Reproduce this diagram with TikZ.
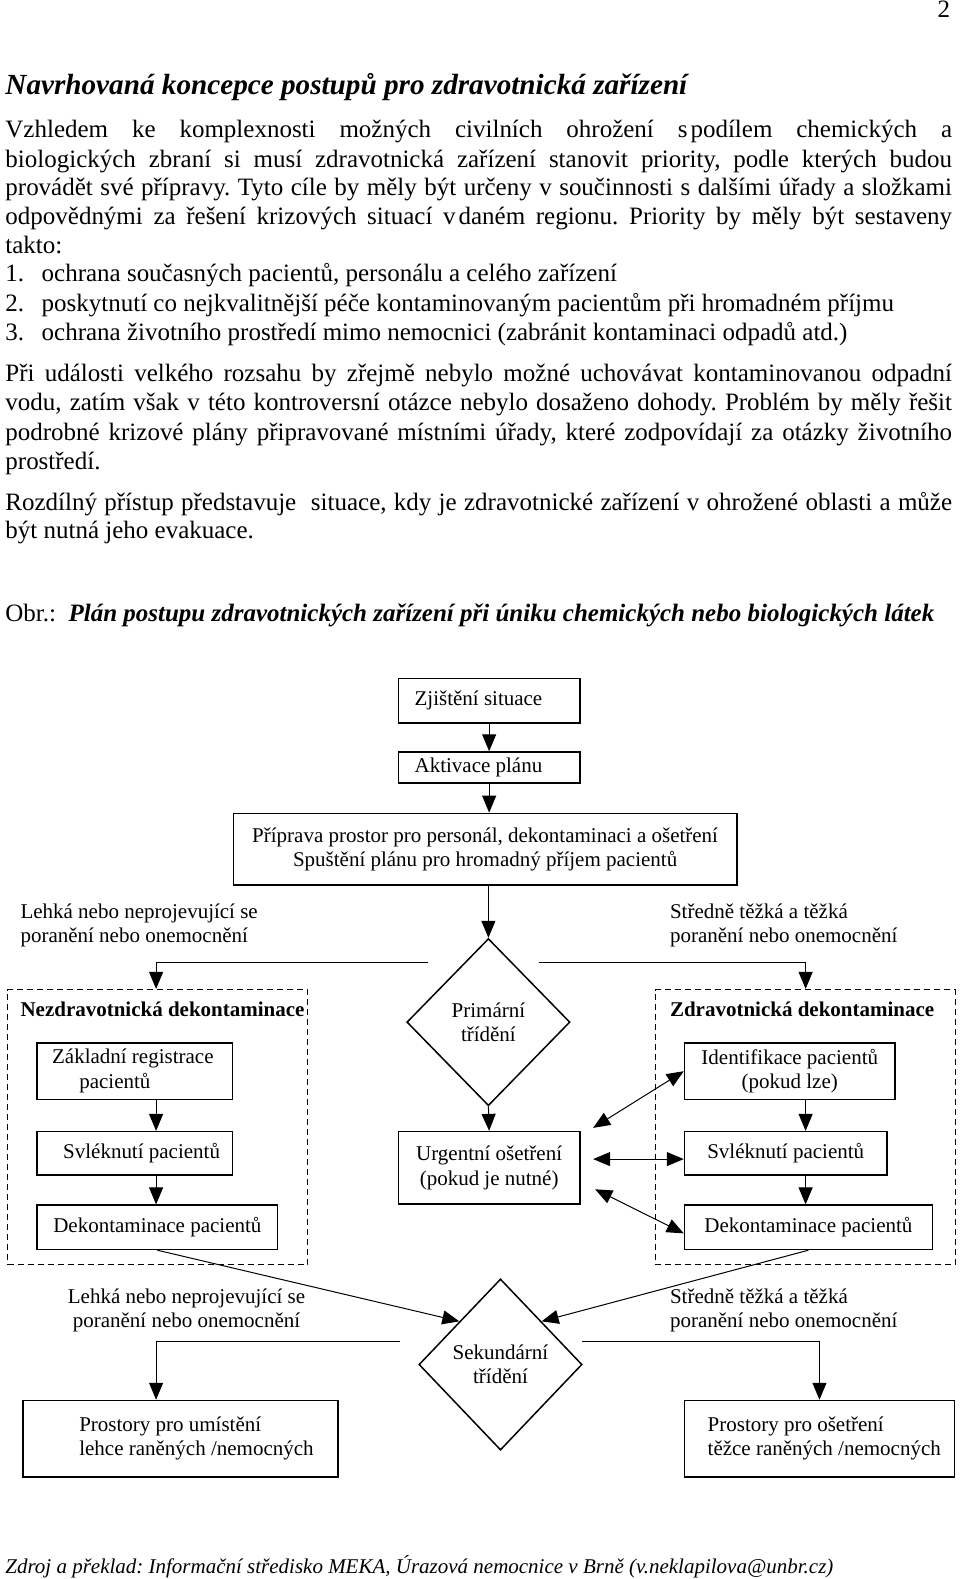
\documentclass[tikz,border=0pt]{standalone}
\usepackage{fontspec}
\setmainfont{Liberation Serif}
\usetikzlibrary{shapes.geometric,arrows.meta,calc}
\newlength\pxu
\setlength\pxu{0.5037pt}
\newcommand\bodyfont{\fontsize{12.5}{14.4}\selectfont}
\newcommand\chartfont{\fontsize{10.5}{12.1}\selectfont}
\newcommand\jline[1]{\makebox[940\pxu][s]{#1}}
\newcommand\leftin[3]{\makebox[#1][l]{\hspace*{#2}\begin{tabular}{@{}l@{}}#3\end{tabular}}}
\frenchspacing

\begin{document}
\begin{tikzpicture}[x=\pxu, y=-\pxu,
    every node/.style={inner sep=0pt, font=\chartfont},
    txt/.style={anchor=base west, font=\bodyfont},
    box/.style={draw, line width=0.75pt, anchor=north west, align=center},
    dbox/.style={draw, dash pattern=on 3pt off 2pt, line width=0.6pt, anchor=north west},
    dia/.style={draw, diamond, line width=0.75pt, align=center},
    lab/.style={anchor=west, align=left},
    arr/.style={-{Triangle[length=8.5pt,width=7pt]}, line width=0.5pt},
    darr/.style={{Triangle[length=8.5pt,width=7pt]}-{Triangle[length=8.5pt,width=7pt]}, line width=0.5pt}]
  \useasboundingbox (0,0) rectangle (953,1568);

  % page text
  \node[txt, anchor=base east] (num) at (944,17) {2};
  \node[txt, font=\fontsize{14.6}{17}\selectfont\bfseries\itshape] (title) at (5,94)
    {Navrhovaná koncepce postupů pro zdravotnická zařízení};
  \node[txt] (p1a) at (5,137) {\jline{Vzhledem ke komplexnosti možných civilních ohrožení s\kern1.5pt podílem chemických a}};
  \node[txt] (p1b) at (5,166) {\jline{biologických zbraní si musí zdravotnická zařízení stanovit priority, podle kterých budou}};
  \node[txt] (p1c) at (5,194) {\jline{provádět své přípravy. Tyto cíle by měly být určeny v součinnosti s dalšími úřady a složkami}};
  \node[txt] (p1d) at (5,223) {\jline{odpovědnými za řešení krizových situací v\kern1.5pt daném regionu. Priority by měly být sestaveny}};
  \node[txt] (p1e) at (5,252) {takto:};
  \node[txt] (n1) at (5,280) {1.};
  \node[txt] (i1) at (41,280) {ochrana současných pacientů, personálu a celého zařízení};
  \node[txt] (n2) at (5,309) {2.};
  \node[txt] (i2) at (41,309) {poskytnutí co nejkvalitnější péče kontaminovaným pacientům při hromadném příjmu};
  \node[txt] (n3) at (5,338) {3.};
  \node[txt] (i3) at (41,338) {ochrana životního prostředí mimo nemocnici (zabránit kontaminaci odpadů atd.)};
  \node[txt] (p2a) at (5,379) {\jline{Při události velkého rozsahu by zřejmě nebylo možné uchovávat kontaminovanou odpadní}};
  \node[txt] (p2b) at (5,408) {\jline{vodu, zatím však v této kontroversní otázce nebylo dosaženo dohody. Problém by měly řešit}};
  \node[txt] (p2c) at (5,437) {\jline{podrobné krizové plány připravované místními úřady, které zodpovídají za otázky životního}};
  \node[txt] (p2d) at (5,466) {prostředí.};
  \node[txt] (p3a) at (5,507) {\jline{Rozdílný přístup představuje\ \ situace, kdy je zdravotnické zařízení v ohrožené oblasti a může}};
  \node[txt] (p3b) at (5,535) {být nutná jeho evakuace.};
  \node[txt] (obr) at (5,617) {Obr.:\ \ \textbf{\textit{Plán postupu zdravotnických zařízení při úniku chemických nebo biologických látek}}};
  \node[txt, font=\fontsize{10.5}{12}\selectfont\itshape] (zdroj) at (5,1563)
    {Zdroj a překlad: Informační středisko MEKA, Úrazová nemocnice v Brně (v.neklapilova@unbr.cz)};

  % chart
  \node[dbox, minimum width=298\pxu, minimum height=273\pxu] (ndek) at (7,982) {};
  \node[dbox, minimum width=298\pxu, minimum height=273\pxu] (zdek) at (650,982) {};
  \node[lab, font=\chartfont\bfseries] (ntit) at (20,1002) {Nezdravotnická dekontaminace};
  \node[lab, font=\chartfont\bfseries] (ztit) at (665,1002) {Zdravotnická dekontaminace};

  \node[box, minimum width=180\pxu, minimum height=44\pxu] (zji) at (395,673) {\leftin{180\pxu}{16\pxu}{Zjištění situace}};
  \node[box, minimum width=180\pxu, minimum height=31\pxu] (akt) at (395,746) {\leftin{180\pxu}{16\pxu}{Aktivace plánu}};
  \node[box, minimum width=500\pxu, minimum height=71\pxu] (pri) at (231,807)
    {Příprava prostor pro personál, dekontaminaci a ošetření\\Spuštění plánu pro hromadný příjem pacientů};
  \node[dia, minimum width=162\pxu, minimum height=166\pxu] (prim) at (485,1015) {Primární\\třídění};

  \node[box, minimum width=194\pxu, minimum height=56\pxu] (zakl) at (36,1035)
    {\leftin{194\pxu}{15\pxu}{Základní registrace\\\hspace*{27\pxu}pacientů}};
  \node[box, minimum width=194\pxu, minimum height=43\pxu] (svl1) at (36,1123) {\leftin{194\pxu}{26\pxu}{Svléknutí pacientů}};
  \node[box, minimum width=239\pxu, minimum height=44\pxu] (dek1) at (36,1196) {Dekontaminace pacientů};
  \node[box, minimum width=180\pxu, minimum height=72\pxu] (urg) at (395,1123) {Urgentní ošetření\\(pokud je nutné)};
  \node[box, minimum width=209\pxu, minimum height=56\pxu] (ident) at (679,1035) {Identifikace pacientů\\(pokud lze)};
  \node[box, minimum width=201\pxu, minimum height=43\pxu] (svl2) at (679,1123) {Svléknutí pacientů};
  \node[box, minimum width=246\pxu, minimum height=44\pxu] (dek2) at (679,1196) {Dekontaminace pacientů};

  \node[dia, minimum width=162\pxu, minimum height=170\pxu] (sek) at (497,1355) {Sekundární\\třídění};
  \node[box, minimum width=313\pxu, minimum height=76\pxu] (pros1) at (22,1390)
    {\leftin{313\pxu}{56\pxu}{Prostory pro umístění\\lehce raněných /nemocných}};
  \node[box, minimum width=268\pxu, minimum height=76\pxu] (pros2) at (679,1390)
    {\leftin{268\pxu}{23\pxu}{Prostory pro ošetření\\těžce raněných /nemocných}};

  \node[lab] (lehka1) at (20,919) {Lehká nebo neprojevující se\\poranění nebo onemocnění};
  \node[lab] (tezka1) at (665,919) {Středně těžká a těžká\\poranění nebo onemocnění};
  \node[anchor=west, align=center] (lehka2) at (67,1301) {Lehká nebo neprojevující se\\poranění nebo onemocnění};
  \node[lab] (tezka2) at (665,1301) {Středně těžká a těžká\\poranění nebo onemocnění};

  % connectors
  \coordinate (lc) at (155,0);
  \coordinate (rc) at (800,0);
  \coordinate (pl) at (425,956);
  \coordinate (pr) at (535,956);
  \coordinate (sl) at (397,1332);
  \coordinate (sr) at (578,1332);
  \coordinate (u1) at (589,1120);
  \coordinate (u2) at (589,1151);
  \coordinate (u3) at (591,1181);

  \draw[arr] (zji) -- (akt);
  \draw[arr] (akt.south) -- (akt.south |- pri.north);
  \draw[arr] (prim.north |- pri.south) -- (prim.north);
  \draw[arr] (pl) -| (lc |- ndek.north);
  \draw[arr] (pr) -| (rc |- zdek.north);
  \draw[arr] (lc |- zakl.south) -- (lc |- svl1.north);
  \draw[arr] (lc |- svl1.south) -- (lc |- dek1.north);
  \draw[arr] (prim.south) -- (urg.north);
  \draw[arr] (rc |- ident.south) -- (rc |- svl2.north);
  \draw[arr] (rc |- svl2.south) -- (rc |- dek2.north);
  \draw[darr] (u1) -- (ident.west);
  \draw[darr] (u2) -- (svl2.west |- u2);
  \draw[darr] (u3) -- ($(dek2.west)+(0,6)$);
  \draw[arr] (dek1.south) -- (sek.north west);
  \draw[arr] (dek2.south) -- (sek.north east);
  \draw[arr] (sl) -| (lc |- pros1.north);
  \draw[arr] (sr) -| (pros2.north);
\end{tikzpicture}
\end{document}
